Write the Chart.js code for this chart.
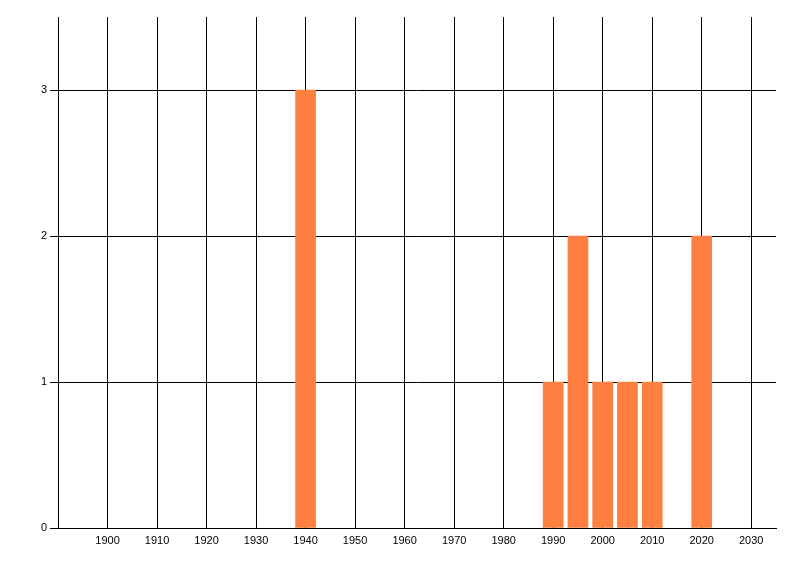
<!DOCTYPE html>
<html>
<head>
<meta charset="utf-8">
<script src="https://cdn.jsdelivr.net/npm/chart.js@4/dist/chart.umd.min.js"></script>
<style>
  body { margin: 0; background: #fff; }
  canvas { display: block; }
</style>
</head>
<body>
<canvas id="chart" width="800" height="576"></canvas>
<script>
// Data
const years = [1940, 1990, 1995, 2000, 2005, 2010, 2020];
const counts = [3, 1, 2, 1, 1, 1, 2];
const xTicks = [1900, 1910, 1920, 1930, 1940, 1950, 1960, 1970, 1980, 1990, 2000, 2010, 2020, 2030];
const yTicks = [0, 1, 2, 3];

const ctx = document.getElementById('chart').getContext('2d');

new Chart(ctx, {
    type: 'bar',
    data: {
        datasets: [{
            data: years.map((y, i) => ({ x: y, y: counts[i] })),
            backgroundColor: '#FF7F40',
            borderWidth: 0,
            barThickness: 20,
        }],
    },
    options: {
        responsive: false,
        animation: false,
        layout: { padding: { top: 17, right: 24, left: 0, bottom: 0 } },
        plugins: { legend: { display: false }, tooltip: { enabled: false } },
        scales: {
            x: {
                type: 'linear',
                min: 1890,
                max: 2035,
                offset: false,
                afterBuildTicks: (scale) => { scale.ticks = xTicks.map(v => ({ value: v })); },
                afterFit: (scale) => { scale.height = 48; },
                grid: { color: '#000', lineWidth: 1, drawTicks: false, offset: false },
                border: { color: '#000', width: 1 },
                ticks: {
                    color: '#000',
                    padding: 6,
                    maxRotation: 0,
                    autoSkip: false,
                    font: { family: 'Liberation Sans', size: 11 },
                    callback: (v) => v.toString(),
                },
            },
            y: {
                min: 0,
                max: 3.5,
                afterBuildTicks: (scale) => { scale.ticks = yTicks.map(v => ({ value: v })); },
                afterFit: (scale) => { scale.width = 58; },
                grid: { color: '#000', lineWidth: 1, tickLength: 8 },
                border: { color: '#000', width: 1 },
                ticks: {
                    color: '#000',
                    padding: 3,
                    font: { family: 'Liberation Sans', size: 11 },
                },
            },
        },
    },
});
</script>
</body>
</html>
